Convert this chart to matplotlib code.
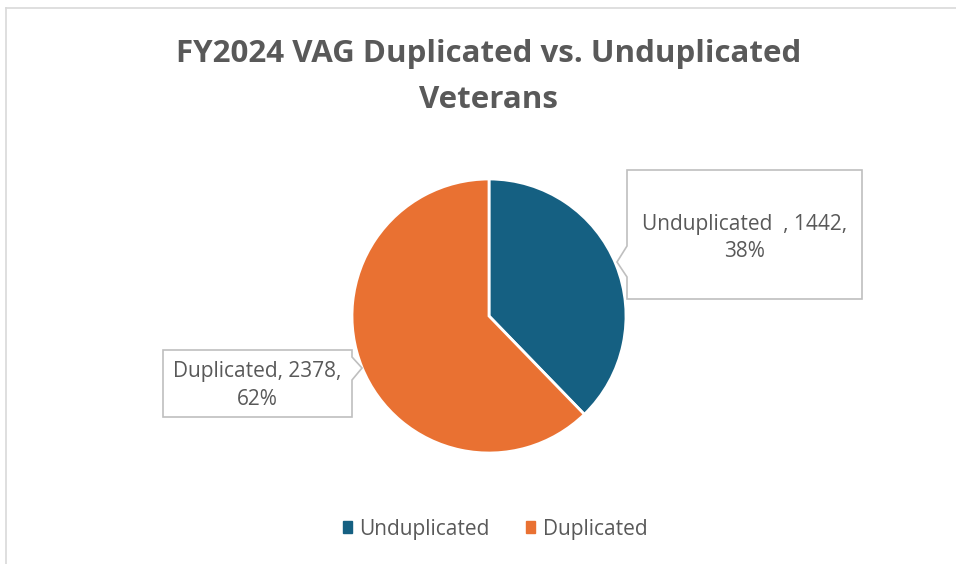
import matplotlib
matplotlib.use("Agg")
import matplotlib.pyplot as plt
from matplotlib.patches import Polygon, Rectangle
from matplotlib.lines import Line2D

categories = ["Unduplicated", "Duplicated"]
values = [1442, 2378]
percents = ["38%", "62%"]
colors = ["#156082", "#E97132"]
title = "FY2024 VAG Duplicated vs. Unduplicated\nVeterans"

W, H = 956, 564
plt.rcParams['font.family'] = ['Open Sans', 'DejaVu Sans']
fig = plt.figure(figsize=(W / 100, H / 100), dpi=100)
ax = fig.add_axes([0, 0, 1, 1])
ax.set_xlim(0, W)
ax.set_ylim(0, H)
ax.set_aspect('equal')
ax.axis('off')

def Y(y):
    return H - y

TXT = "#595959"

# outer chart border
ax.add_line(Line2D([6, W], [Y(8), Y(8)], color="#D9D9D9", lw=1.2))
ax.add_line(Line2D([6, 6], [Y(8), 0], color="#D9D9D9", lw=1.2))

# pie
ax.pie(values, colors=colors, startangle=90, counterclock=False,
       center=(489, Y(316)), radius=137, frame=True,
       wedgeprops=dict(edgecolor="white", linewidth=2))
ax.set_xlim(0, W)
ax.set_ylim(0, H)
ax.axis('off')

# title
ax.text(489, Y(77), title, ha="center", va="center", fontsize=22.5,
        fontweight="bold", color=TXT, linespacing=1.68)

# callout boxes
box1 = [(627, 170), (862, 170), (862, 299), (627, 299), (627, 277),
        (617, 262), (627, 246)]
ax.add_patch(Polygon([(x, Y(y)) for x, y in box1], closed=True,
                     facecolor="white", edgecolor="#BFBFBF", lw=1.2, zorder=3))
ax.text(744.5, Y(238), f"{categories[0]}  , {values[0]},\n{percents[0]}",
        ha="center", va="center", fontsize=15, color=TXT,
        linespacing=1.38, zorder=4)

box2 = [(163, 350), (352, 350), (352, 357), (362, 368), (352, 380),
        (352, 417), (163, 417)]
ax.add_patch(Polygon([(x, Y(y)) for x, y in box2], closed=True,
                     facecolor="white", edgecolor="#BFBFBF", lw=1.2, zorder=3))
ax.text(257.5, Y(385.5), f"{categories[1]}, {values[1]},\n{percents[1]}",
        ha="center", va="center", fontsize=15, color=TXT,
        linespacing=1.38, zorder=4)

# legend
leg = ax.legend(handles=[Rectangle((0, 0), 1, 1, color=c) for c in colors],
                labels=categories, loc="center", bbox_to_anchor=(495 / W, 1 - 529 / H),
                ncol=2, frameon=False, fontsize=15, handlelength=0.45,
                handleheight=0.45, handletextpad=0.35, columnspacing=1.75)
for t in leg.get_texts():
    t.set_color(TXT)

fig.savefig("out.png", dpi=100)
